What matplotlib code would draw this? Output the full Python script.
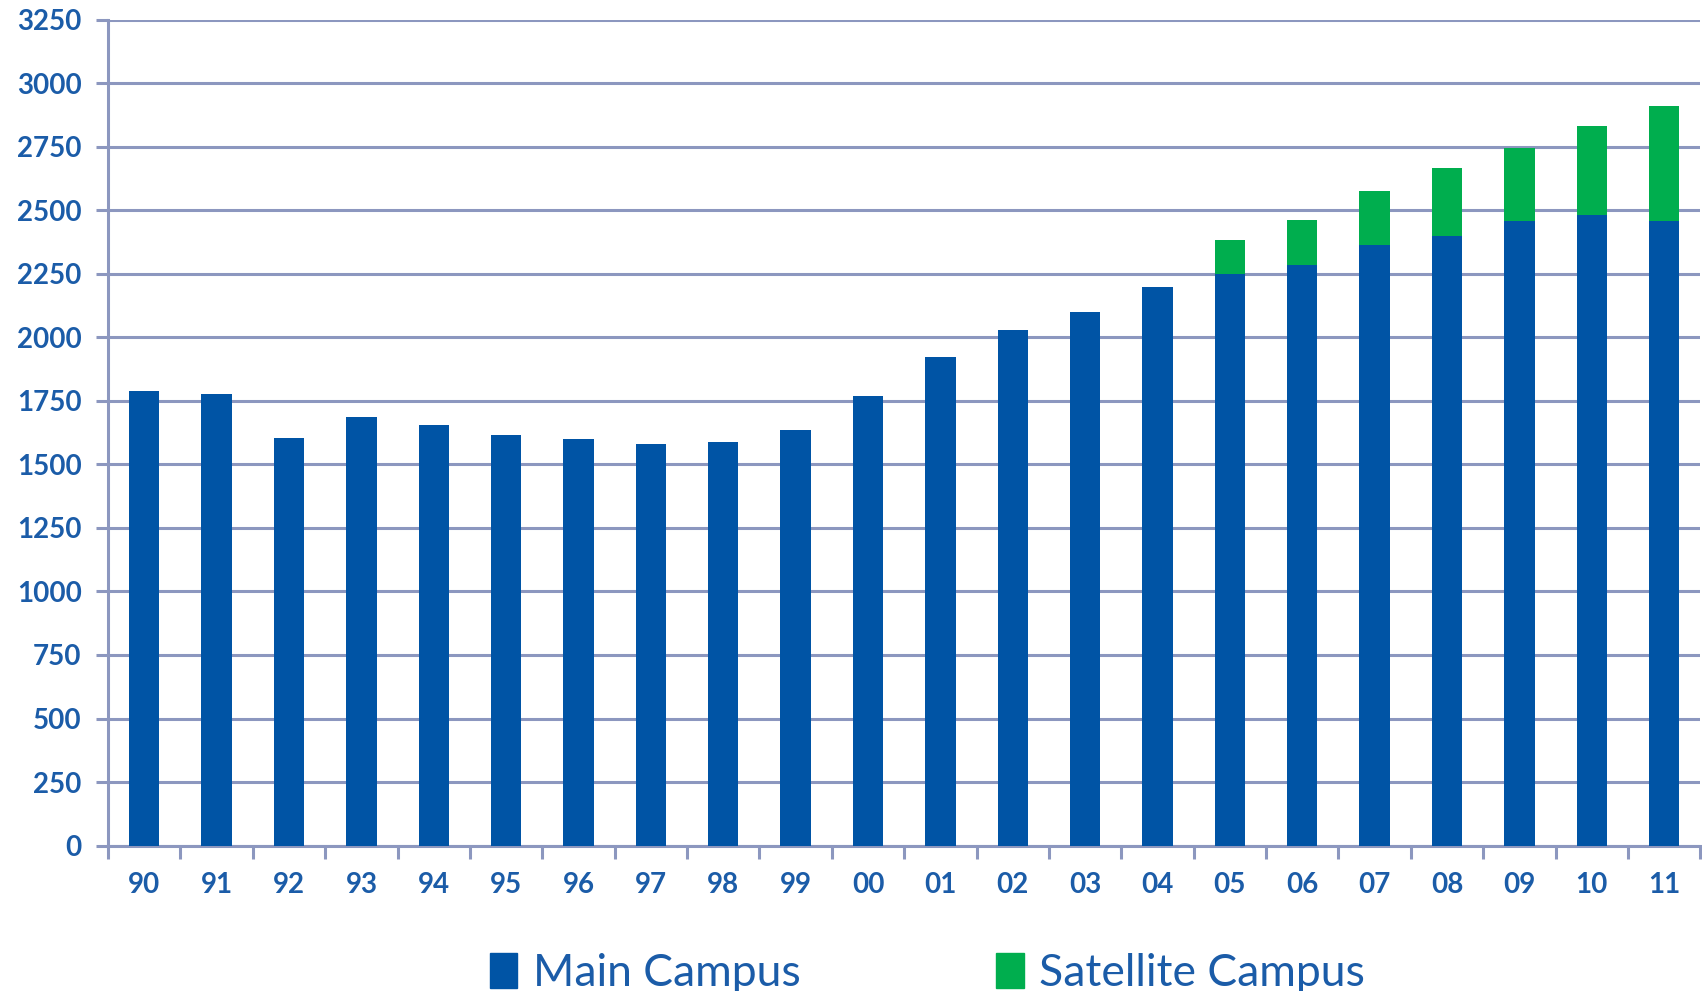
import numpy as np
import matplotlib as mpl
mpl.use("Agg")
import matplotlib.pyplot as plt
from matplotlib.patches import Patch

# enrolment by year
years = ['90', '91', '92', '93', '94', '95', '96', '97', '98', '99', '00',
         '01', '02', '03', '04', '05', '06', '07', '08', '09', '10', '11']
main_campus = [1790, 1775, 1605, 1688, 1656, 1615, 1600, 1582, 1587, 1637, 1767,
               1924, 2030, 2100, 2197, 2248, 2283, 2362, 2398, 2458, 2480, 2458]
satellite_campus = [0, 0, 0, 0, 0, 0, 0, 0, 0, 0, 0,
                    0, 0, 0, 0, 135, 180, 212, 266, 288, 352, 450]

blue = '#0054A5'
green = '#00AE4E'
grid_col = '#8C97BF'
txt_col = '#1B5CA8'

plt.rcParams['font.family'] = ['Lato', 'DejaVu Sans']

fig = plt.figure(figsize=(17.02, 9.91), dpi=100)
ax = fig.add_axes([0.0635, 0.1467, 0.9355, 0.8336])

x = np.arange(len(years))
ax.bar(x, main_campus, width=0.42, color=blue, zorder=3)
ax.bar(x, satellite_campus, width=0.42, bottom=main_campus, color=green, zorder=3)

ax.set_xlim(-0.5, len(years) - 0.5)
ax.set_ylim(0, 3250)
ax.set_yticks(np.arange(0, 3251, 250))
ax.yaxis.grid(True, color=grid_col, linewidth=2.2, zorder=0)
ax.set_axisbelow(True)

for s in ['top', 'right']:
    ax.spines[s].set_visible(False)
for s in ['left', 'bottom']:
    ax.spines[s].set_color(grid_col)
    ax.spines[s].set_linewidth(2.2)

ax.set_xticks(x)
ax.set_xticklabels(years)
ax.set_xticks(np.arange(-0.5, len(years), 1), minor=True)
ax.tick_params(axis='x', which='major', length=0, pad=19)
ax.tick_params(axis='x', which='minor', length=9, width=2.2, color=grid_col)
ax.tick_params(axis='y', length=9, width=2.2, color=grid_col, pad=10)
for lab in ax.get_xticklabels() + ax.get_yticklabels():
    lab.set_fontsize(20)
    lab.set_fontweight('bold')
    lab.set_color(txt_col)

handles = [Patch(color=blue, label='Main Campus'),
           Patch(color=green, label='Satellite Campus')]
leg = fig.legend(handles=handles, loc='lower center', bbox_to_anchor=(0.545, -0.043),
                 ncol=2, frameon=False, fontsize=32, handlelength=0.62,
                 handleheight=0.85, handletextpad=0.35, columnspacing=4.4)
for t in leg.get_texts():
    t.set_color(txt_col)

fig.savefig('out.png', dpi=100)
